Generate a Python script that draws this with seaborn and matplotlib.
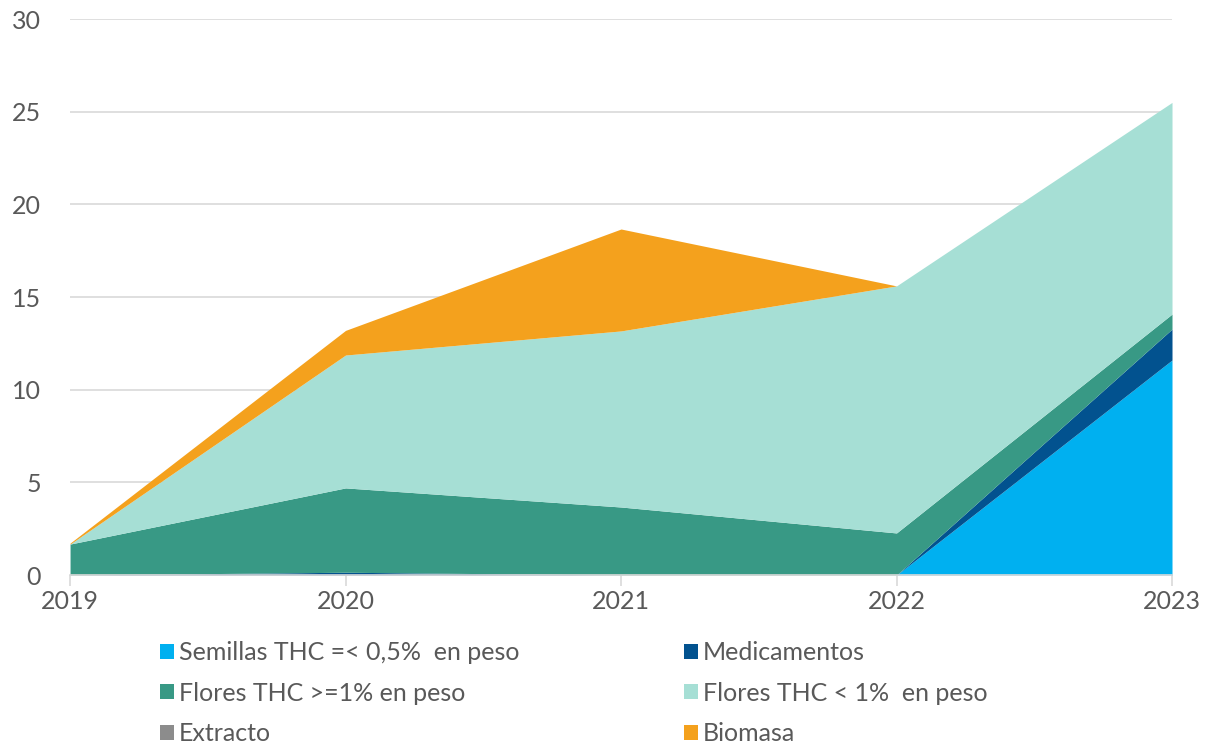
import matplotlib
matplotlib.use("Agg")
import matplotlib.pyplot as plt
from matplotlib.patches import Patch
import seaborn as sns

years = [2019, 2020, 2021, 2022, 2023]
semillas = [0, 0, 0, 0, 11.6]
medicamentos = [0, 0.15, 0, 0, 1.67]
flores_alto = [1.67, 4.55, 3.67, 2.27, 0.81]
flores_bajo = [0, 7.17, 9.5, 13.33, 11.42]
extracto = [0, 0, 0, 0, 0]
biomasa = [0.05, 1.33, 5.5, 0, 0]

labels = ["Semillas THC =< 0,5%  en peso", "Medicamentos",
          "Flores THC >=1% en peso", "Flores THC < 1%  en peso",
          "Extracto", "Biomasa"]
colors = ["#00B0F0", "#02528F", "#389985", "#A6DFD5", "#8C8C8C", "#F4A11D"]

sns.set_style("white")
plt.rcParams['font.family'] = ['Lato', 'DejaVu Sans']
text_color = "#595959"

fig = plt.figure(figsize=(12.1, 7.46), dpi=100)
ax = fig.add_axes([0.0579, 0.2292, 0.9107, 0.7453])

ax.stackplot(years, semillas, medicamentos, flores_alto, flores_bajo,
             extracto, biomasa, colors=colors, linewidth=0)

ax.set_xlim(2019, 2023)
ax.set_ylim(0, 30)
ax.set_yticks(range(0, 31, 5))
ax.set_xticks(years)
ax.yaxis.grid(True, color="#D9D9D9", linewidth=1.2)
ax.set_axisbelow(True)
for s in ["top", "right", "left"]:
    ax.spines[s].set_visible(False)
ax.spines["bottom"].set_color("#D9D9D9")
ax.spines["bottom"].set_linewidth(1.2)
ax.tick_params(axis="x", length=8, width=1.2, color="#D9D9D9", labelsize=18,
               labelcolor=text_color, pad=3, direction="out", bottom=True)
ax.tick_params(axis="y", length=0, labelsize=18, labelcolor=text_color, pad=21)

# legend fills column by column, so reorder to read row by row
order = [0, 2, 4, 1, 3, 5]
handles = [Patch(facecolor=colors[i], edgecolor="none") for i in order]
fig.legend(handles, [labels[i] for i in order], loc="upper left",
           bbox_to_anchor=(0.124, 0.154), ncol=2, frameon=False, fontsize=18,
           labelcolor=text_color, handlelength=0.55, handleheight=0.55,
           handletextpad=0.2, columnspacing=6.6, labelspacing=0.7,
           borderaxespad=0)

fig.savefig("out.png", dpi=100)
